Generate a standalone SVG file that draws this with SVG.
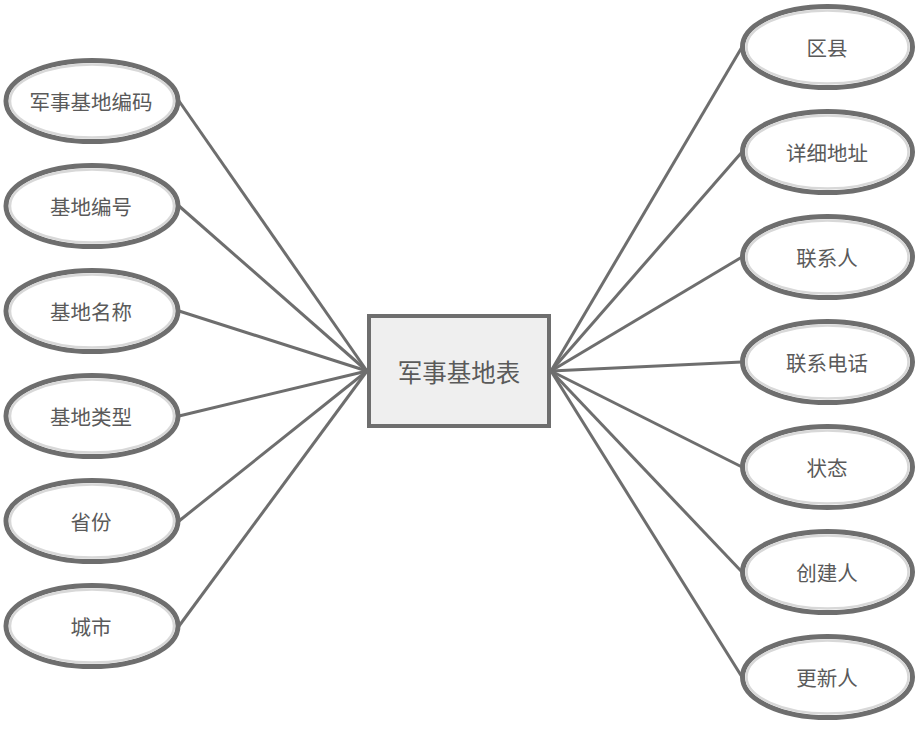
<svg xmlns="http://www.w3.org/2000/svg" width="917" height="741" viewBox="0 0 917 741">
<style>
.e{fill:#ffffff;stroke:#6e6e6e;stroke-width:5}
.g{fill:none;stroke:#d8d8d8;stroke-width:2.5}
.t{font-family:"Noto Sans CJK SC","Noto Sans",sans-serif;font-size:20.5px;fill:#5a5a5a;text-anchor:middle;dominant-baseline:central}
.c line{stroke:#6e6e6e;stroke-width:3}
</style>
<rect width="917" height="741" fill="#ffffff"/>
<g class="c">
<line x1="179" y1="101" x2="367" y2="371"/>
<line x1="179" y1="206" x2="367" y2="371"/>
<line x1="179" y1="311" x2="367" y2="371"/>
<line x1="179" y1="416" x2="367" y2="371"/>
<line x1="179" y1="521" x2="367" y2="371"/>
<line x1="179" y1="626" x2="367" y2="371"/>
<line x1="551" y1="371" x2="742" y2="47"/>
<line x1="551" y1="371" x2="742" y2="152"/>
<line x1="551" y1="371" x2="742" y2="257"/>
<line x1="551" y1="371" x2="742" y2="362"/>
<line x1="551" y1="371" x2="742" y2="467"/>
<line x1="551" y1="371" x2="742" y2="572"/>
<line x1="551" y1="371" x2="742" y2="677"/>
</g>
<g id="center"><rect x="369" y="316" width="180" height="110" fill="#efefef" stroke="#6e6e6e" stroke-width="4"/><text class="t" x="459" y="371" style="font-size:24.5px">军事基地表</text></g>
<g id="n1"><ellipse class="e" cx="92" cy="101" rx="86" ry="40.5"/><ellipse class="g" cx="92" cy="101" rx="82" ry="36.5"/><text class="t" x="91" y="101">军事基地编码</text></g>
<g id="n2"><ellipse class="e" cx="92" cy="206" rx="86" ry="40.5"/><ellipse class="g" cx="92" cy="206" rx="82" ry="36.5"/><text class="t" x="91" y="206">基地编号</text></g>
<g id="n3"><ellipse class="e" cx="92" cy="311" rx="86" ry="40.5"/><ellipse class="g" cx="92" cy="311" rx="82" ry="36.5"/><text class="t" x="91" y="311">基地名称</text></g>
<g id="n4"><ellipse class="e" cx="92" cy="416" rx="86" ry="40.5"/><ellipse class="g" cx="92" cy="416" rx="82" ry="36.5"/><text class="t" x="91" y="416">基地类型</text></g>
<g id="n5"><ellipse class="e" cx="92" cy="521" rx="86" ry="40.5"/><ellipse class="g" cx="92" cy="521" rx="82" ry="36.5"/><text class="t" x="91" y="521">省份</text></g>
<g id="n6"><ellipse class="e" cx="92" cy="626" rx="86" ry="40.5"/><ellipse class="g" cx="92" cy="626" rx="82" ry="36.5"/><text class="t" x="91" y="626">城市</text></g>
<g id="r1"><ellipse class="e" cx="827.5" cy="47" rx="85" ry="40.5"/><ellipse class="g" cx="827.5" cy="47" rx="81" ry="36.5"/><text class="t" x="827" y="47">区县</text></g>
<g id="r2"><ellipse class="e" cx="827.5" cy="152" rx="85" ry="40.5"/><ellipse class="g" cx="827.5" cy="152" rx="81" ry="36.5"/><text class="t" x="827" y="152">详细地址</text></g>
<g id="r3"><ellipse class="e" cx="827.5" cy="257" rx="85" ry="40.5"/><ellipse class="g" cx="827.5" cy="257" rx="81" ry="36.5"/><text class="t" x="827" y="257">联系人</text></g>
<g id="r4"><ellipse class="e" cx="827.5" cy="362" rx="85" ry="40.5"/><ellipse class="g" cx="827.5" cy="362" rx="81" ry="36.5"/><text class="t" x="827" y="362">联系电话</text></g>
<g id="r5"><ellipse class="e" cx="827.5" cy="467" rx="85" ry="40.5"/><ellipse class="g" cx="827.5" cy="467" rx="81" ry="36.5"/><text class="t" x="827" y="467">状态</text></g>
<g id="r6"><ellipse class="e" cx="827.5" cy="572" rx="85" ry="40.5"/><ellipse class="g" cx="827.5" cy="572" rx="81" ry="36.5"/><text class="t" x="827" y="572">创建人</text></g>
<g id="r7"><ellipse class="e" cx="827.5" cy="677" rx="85" ry="40.5"/><ellipse class="g" cx="827.5" cy="677" rx="81" ry="36.5"/><text class="t" x="827" y="677">更新人</text></g>
</svg>
